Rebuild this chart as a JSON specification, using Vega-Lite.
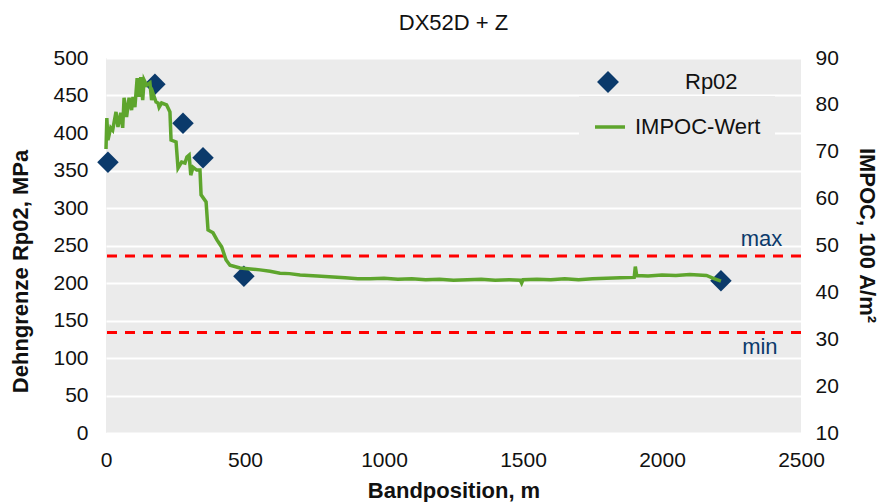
{
  "$schema": "https://vega.github.io/schema/vega-lite/v6.json",
  "autosize": "none",
  "padding": {"left": 106, "top": 58, "right": 79, "bottom": 69},
  "width": 695,
  "height": 375,
  "background": "white",
  "config": {
    "font": "Liberation Sans",
    "view": {"fill": "#EBEBEB", "stroke": null},
    "axis": {"labelFont": "Liberation Sans", "labelFontSize": 21, "labelColor": "#111111", "titleFont": "Liberation Sans", "titleFontSize": 22, "titleFontWeight": "bold", "titleColor": "#111111", "domain": false, "ticks": false, "labelFlush": false},
    "legend": {"labelFont": "Liberation Sans", "labelFontSize": 22, "labelColor": "#111111"}
  },
  "title": {"text": "DX52D + Z", "fontSize": 22, "fontWeight": "normal", "font": "Liberation Sans", "color": "#111111", "offset": 12, "anchor": "middle"},
  "datasets": {
    "rp02": [
      {"pos": 7, "rp": 361, "s": "Rp02"},
      {"pos": 176, "rp": 465, "s": "Rp02"},
      {"pos": 277, "rp": 413, "s": "Rp02"},
      {"pos": 349, "rp": 367, "s": "Rp02"},
      {"pos": 496, "rp": 209, "s": "Rp02"},
      {"pos": 2212, "rp": 203, "s": "Rp02"}
    ],
    "limits": [
      {"val": 236, "label": "max", "lpos": 2358, "ly": 249},
      {"val": 134, "label": "min", "lpos": 2352, "ly": 105}
    ],
    "impoc": [
      {"pos": 0, "v": 70.6}, {"pos": 3, "v": 77.2}, {"pos": 7, "v": 72.5}, {"pos": 17, "v": 75.1},
      {"pos": 24, "v": 74.6}, {"pos": 36, "v": 78.5}, {"pos": 43, "v": 75.3}, {"pos": 53, "v": 78.3},
      {"pos": 60, "v": 75.1}, {"pos": 65, "v": 81.5}, {"pos": 74, "v": 77.4}, {"pos": 83, "v": 81.5},
      {"pos": 92, "v": 78.9}, {"pos": 97, "v": 81.7}, {"pos": 104, "v": 79.5}, {"pos": 112, "v": 85.7},
      {"pos": 119, "v": 81.7}, {"pos": 125, "v": 85.9}, {"pos": 132, "v": 81.0}, {"pos": 137, "v": 85.3},
      {"pos": 146, "v": 84.2}, {"pos": 158, "v": 84.7}, {"pos": 164, "v": 81.0}, {"pos": 169, "v": 82.5},
      {"pos": 180, "v": 80.6}, {"pos": 187, "v": 80.4}, {"pos": 191, "v": 79.5}, {"pos": 200, "v": 80.4},
      {"pos": 218, "v": 80.0}, {"pos": 230, "v": 78.5}, {"pos": 234, "v": 72.5}, {"pos": 252, "v": 72.1},
      {"pos": 259, "v": 66.5}, {"pos": 272, "v": 67.8}, {"pos": 284, "v": 67.6}, {"pos": 291, "v": 68.9},
      {"pos": 299, "v": 69.3}, {"pos": 305, "v": 65.0}, {"pos": 313, "v": 66.7}, {"pos": 326, "v": 66.1},
      {"pos": 338, "v": 66.1}, {"pos": 342, "v": 60.8}, {"pos": 360, "v": 59.3}, {"pos": 367, "v": 53.3},
      {"pos": 385, "v": 52.7}, {"pos": 399, "v": 51.2}, {"pos": 416, "v": 49.7}, {"pos": 432, "v": 46.9},
      {"pos": 446, "v": 45.8}, {"pos": 482, "v": 45.2}, {"pos": 520, "v": 45.0}, {"pos": 554, "v": 44.8},
      {"pos": 590, "v": 44.5}, {"pos": 626, "v": 44.1}, {"pos": 660, "v": 44.0}, {"pos": 698, "v": 43.7},
      {"pos": 760, "v": 43.5}, {"pos": 817, "v": 43.3}, {"pos": 860, "v": 43.1}, {"pos": 906, "v": 42.9},
      {"pos": 950, "v": 42.9}, {"pos": 1000, "v": 43.0}, {"pos": 1050, "v": 42.8}, {"pos": 1100, "v": 42.9},
      {"pos": 1150, "v": 42.7}, {"pos": 1200, "v": 42.8}, {"pos": 1250, "v": 42.6}, {"pos": 1300, "v": 42.7},
      {"pos": 1350, "v": 42.8}, {"pos": 1400, "v": 42.6}, {"pos": 1450, "v": 42.7}, {"pos": 1490, "v": 42.6},
      {"pos": 1495, "v": 42.0}, {"pos": 1500, "v": 42.7}, {"pos": 1550, "v": 42.8}, {"pos": 1600, "v": 42.7},
      {"pos": 1650, "v": 42.9}, {"pos": 1700, "v": 42.7}, {"pos": 1750, "v": 42.9}, {"pos": 1800, "v": 43.0},
      {"pos": 1850, "v": 43.1}, {"pos": 1900, "v": 43.2}, {"pos": 1904, "v": 45.5}, {"pos": 1909, "v": 43.6},
      {"pos": 1950, "v": 43.5}, {"pos": 2000, "v": 43.7}, {"pos": 2050, "v": 43.6}, {"pos": 2100, "v": 43.8},
      {"pos": 2160, "v": 43.6}, {"pos": 2185, "v": 43.0}, {"pos": 2212, "v": 42.4}
    ]
  },
  "layer": [
    {
      "layer": [
        {
          "data": {"name": "limits"},
          "mark": {"type": "rule", "color": "#FF0000", "strokeWidth": 3, "strokeDash": [10, 8]},
          "encoding": {
            "y": {"field": "val", "type": "quantitative", "scale": {"domain": [0, 500], "nice": false},
              "axis": {"title": "Dehngrenze Rp02, MPa", "values": [0,50,100,150,200,250,300,350,400,450,500], "grid": true, "gridColor": "white", "gridWidth": 2, "labelPadding": 18, "titlePadding": 20, "titleY": 213}}
          }
        },
        {
          "data": {"name": "limits"},
          "mark": {"type": "text", "color": "#0B3A6B", "fontSize": 22, "align": "center", "baseline": "alphabetic", "font": "Liberation Sans"},
          "encoding": {
            "x": {"field": "lpos", "type": "quantitative", "scale": {"domain": [0, 2500], "nice": false},
              "axis": {"title": "Bandposition, m", "values": [0,500,1000,1500,2000,2500], "format": "d", "grid": false, "labelPadding": 16, "titlePadding": 10}},
            "y": {"field": "ly", "type": "quantitative", "scale": {"domain": [0, 500], "nice": false},
              "axis": {"title": "Dehngrenze Rp02, MPa", "values": [0,50,100,150,200,250,300,350,400,450,500], "grid": true, "gridColor": "white", "gridWidth": 2, "labelPadding": 18, "titlePadding": 20, "titleY": 213}},
            "text": {"field": "label"}
          }
        },
        {
          "data": {"name": "rp02"},
          "mark": {"type": "point", "shape": "diamond", "filled": true, "color": "#0B3A6B", "size": 460, "opacity": 1},
          "encoding": {
            "x": {"field": "pos", "type": "quantitative", "scale": {"domain": [0, 2500], "nice": false},
              "axis": {"title": "Bandposition, m", "values": [0,500,1000,1500,2000,2500], "format": "d", "grid": false, "labelPadding": 16, "titlePadding": 10}},
            "y": {"field": "rp", "type": "quantitative", "scale": {"domain": [0, 500], "nice": false},
              "axis": {"title": "Dehngrenze Rp02, MPa", "values": [0,50,100,150,200,250,300,350,400,450,500], "grid": true, "gridColor": "white", "gridWidth": 2, "labelPadding": 18, "titlePadding": 20, "titleY": 213}},
            "shape": {"field": "s", "type": "nominal", "scale": {"domain": ["Rp02"], "range": ["diamond"]},
              "legend": {"title": null, "orient": "none", "legendX": 490, "legendY": 12, "symbolSize": 480, "symbolFillColor": "#0B3A6B", "symbolStrokeColor": "#0B3A6B", "symbolOpacity": 1, "labelOffset": 65}}
          }
        }
      ]
    },
    {
      "data": {"name": "impoc"},
      "mark": {"type": "line", "color": "#5EA52D", "strokeWidth": 3.5, "interpolate": "linear"},
      "encoding": {
        "x": {"field": "pos", "type": "quantitative", "scale": {"domain": [0, 2500], "nice": false},
          "axis": {"title": "Bandposition, m", "values": [0,500,1000,1500,2000,2500], "format": "d", "grid": false, "labelPadding": 16, "titlePadding": 10}},
        "y": {"field": "v", "type": "quantitative", "scale": {"domain": [10, 90], "nice": false},
          "axis": {"orient": "right", "title": "IMPOC, 100 A/m²", "values": [10,20,30,40,50,60,70,80,90], "grid": false, "labelPadding": 14, "titlePadding": 16, "titleY": 177}},
        "color": {"datum": "IMPOC-Wert", "type": "nominal", "scale": {"domain": ["IMPOC-Wert"], "range": ["#5EA52D"]},
          "legend": {"title": null, "orient": "none", "legendX": 473, "legendY": 38, "symbolType": "stroke", "symbolSize": 900, "symbolStrokeWidth": 3.5, "labelOffset": 8, "padding": 14, "fillColor": "#EBEBEB"}}
      }
    }
  ],
  "resolve": {"scale": {"y": "independent"}}
}
